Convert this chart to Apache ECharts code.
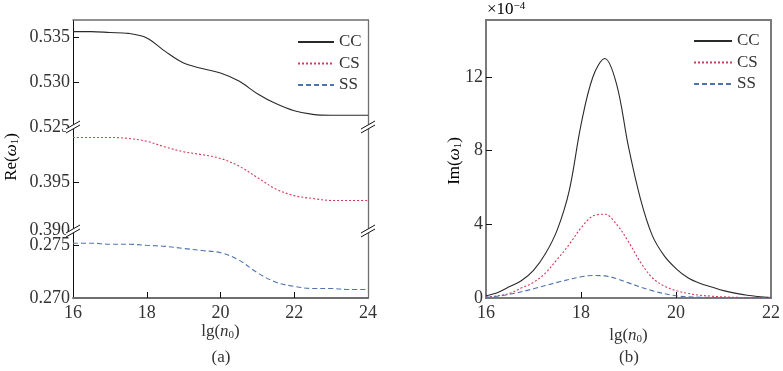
<!DOCTYPE html>
<html>
<head>
<meta charset="utf-8">
<script src="https://cdn.jsdelivr.net/npm/echarts@6/dist/echarts.min.js"></script>
<style>html,body{margin:0;padding:0;background:#fff}#c{width:783px;height:371px}</style>
</head>
<body>
<div id="c"></div>
<script>
// ---------- data: panel (a) ----------
const lgA = [16,16.5,17,17.5,18,18.5,19,19.5,20,20.5,21,21.5,22,22.5,23,23.5,24];
const reCC = [0.5356,0.5356,0.5355,0.5354,0.5349,0.5334,0.5321,0.5315,0.5310,0.5301,0.5287,0.5276,0.5268,0.5264,0.5263,0.5263,0.5263];
const reCS = [0.3997,0.3997,0.3997,0.3996,0.3993,0.3987,0.3982,0.3979,0.3975,0.3967,0.3955,0.3943,0.3936,0.3933,0.3931,0.3931,0.3931];
const reSS = [0.2752,0.2752,0.2751,0.2751,0.2750,0.2749,0.2747,0.2745,0.2743,0.2736,0.2724,0.2715,0.2711,0.2709,0.2709,0.2708,0.2708];
const xTicksA = [16,18,20,22,24];
const yLabelsTop = [0.525,0.530,0.535];
const yLabelsMid = [0.390,0.395];
const yLabelsBot = [0.270,0.275];
// ---------- data: panel (b), Im in units of 1e-4 ----------
const lgCC = [16,16.25,16.5,16.75,17,17.25,17.5,17.75,18,18.25,18.5,18.75,19,19.25,19.5,19.75,20,20.25,20.5,20.75,21,21.5,22];
const imCC = [0.12,0.3,0.62,0.95,1.5,2.4,3.7,5.8,9.4,12.0,13.0,11.6,8.2,5.4,3.4,2.3,1.6,1.1,0.8,0.6,0.4,0.15,0.03];
const lgCS = [16,16.25,16.5,16.75,17,17.25,17.5,17.75,18,18.25,18.5,18.75,19,19.25,19.5,19.75,20,20.25,20.5,20.75,21,21.5,22];
const imCS = [0.05,0.12,0.25,0.55,0.85,1.35,2.1,2.9,3.8,4.45,4.55,4.0,3.05,1.95,1.1,0.65,0.4,0.25,0.15,0.1,0.06,0.02,0.01];
const lgSS = [16,16.5,17,17.5,18,18.25,18.5,18.75,19,19.5,20,20.5,21,21.5,22];
const imSS = [0.02,0.2,0.5,0.85,1.15,1.22,1.2,1.05,0.82,0.4,0.12,0.04,0.02,0.01,0.005];
const xTicksB = [16,18,20,22];
const yTicksB = [0,4,8,12];
const names = ['CC','CS','SS'];

const FONT = "'Liberation Serif','DejaVu Serif',serif";
const TXT = '#333';
const TICKFS = 18;
const colors = {CC:'#2a2a2a', CS:'#d23a5e', SS:'#4f74ad'};
const lineTypes = {CC:'solid', CS:[2,2], SS:[5,3]};
const frame = '#6e6e6e';

const pairs = (xs, ys) => xs.map((x,i)=>[x, ys[i]]);

// layout constants
const AL = 73, AW = 295;
const gA = {left:AL, width:AW, top:20, height:107};
const gB = {left:AL, width:AW, top:127, height:103};
const gC = {left:AL, width:AW, top:230, height:68};
const gD = {left:486, width:286, top:20, height:278};

function yLeft(gi, min, max, labels, ticks){
  return {type:'value', gridIndex:gi, position:'left', min:min, max:max,
    axisLine:{show:true, onZero:false, lineStyle:{color:'#111', width:1}},
    axisTick:{show:true, inside:true, length:6, customValues:ticks, lineStyle:{color:'#111'}},
    axisLabel:{show:true, customValues:labels, margin:3, fontFamily:FONT, fontSize:TICKFS, color:TXT,
      formatter:v=>v.toFixed(3)},
    splitLine:{show:false}};
}
function yRight(gi, min, max){
  return {type:'value', gridIndex:gi, position:'right', min:min, max:max,
    axisLine:{show:true, onZero:false, lineStyle:{color:frame, width:1.3}},
    axisTick:{show:false}, axisLabel:{show:false}, splitLine:{show:false}};
}
function lineSeries(name, xi, yi, data){
  return {type:'line', name:name, xAxisIndex:xi, yAxisIndex:yi, data:data,
    symbol:'none', smooth:0.35, silent:true,
    lineStyle:{color:colors[name], width:1.1, type:lineTypes[name]},
    itemStyle:{color:colors[name]}};
}

const yAmax = 0.525 + 107/9000;
const yBmax = 0.390 + 103/9540;
const yCmax = 0.270 + 68/10540;

function breakMark(cx, cy){
  return [
    {type:'polygon', z:100, shape:{points:[[cx-7,cy+2],[cx+7,cy-6],[cx+7,cy-2],[cx-7,cy+6]]}, style:{fill:'#fff', stroke:null}},
    {type:'line', z:101, shape:{x1:cx-7,y1:cy+2,x2:cx+7,y2:cy-6}, style:{stroke:'#111', lineWidth:1}},
    {type:'line', z:101, shape:{x1:cx-7,y1:cy+6,x2:cx+7,y2:cy-2}, style:{stroke:'#111', lineWidth:1}}
  ];
}

const richName = {
  n:{fontFamily:FONT, fontSize:17, color:TXT},
  i:{fontFamily:FONT, fontSize:17, fontStyle:'italic', color:TXT},
  s:{fontFamily:FONT, fontSize:11, color:TXT, verticalAlign:'bottom', padding:[7,0,0,0]}
};

const legendBase = {orient:'vertical', itemHeight:12, itemGap:1.5, selectedMode:false,
  itemStyle:{color:'rgba(0,0,0,0)', borderColor:'rgba(0,0,0,0)', borderWidth:0, opacity:0},
  textStyle:{fontFamily:FONT, fontSize:17, color:TXT, lineHeight:20}};

const option = {
  animation:false,
  backgroundColor:'#fff',
  grid:[
    Object.assign({show:false}, gA),
    Object.assign({show:false}, gB),
    Object.assign({show:false}, gC),
    Object.assign({show:true, borderColor:'#7a7a7a', borderWidth:2}, gD)
  ],
  xAxis:[
    {type:'value', gridIndex:0, position:'top', min:16, max:24, interval:2,
      axisLine:{show:true, onZero:false, lineStyle:{color:frame, width:1.5}}, axisTick:{show:false}, axisLabel:{show:false}, splitLine:{show:false}},
    {type:'value', gridIndex:1, min:16, max:24, interval:2, show:false, splitLine:{show:false}},
    {type:'value', gridIndex:2, position:'bottom', min:16, max:24, interval:2,
      axisLine:{show:true, onZero:false, lineStyle:{color:frame, width:1.8}},
      axisTick:{show:true, inside:true, length:6, customValues:[18,20,22], lineStyle:{color:'#111'}},
      axisLabel:{show:true, customValues:xTicksA, margin:6, fontFamily:FONT, fontSize:TICKFS, color:TXT},
      splitLine:{show:false},
      name:'{n|lg(}{i|n}{s|0}{n|)}', nameLocation:'middle', nameGap:24,
      nameTextStyle:{rich:richName}},
    {type:'value', gridIndex:3, position:'bottom', min:16, max:22, interval:2,
      axisLine:{show:true, onZero:false, lineStyle:{color:'#7a7a7a', width:2}},
      axisTick:{show:true, inside:true, length:6, customValues:[18,20], lineStyle:{color:'#111'}},
      axisLabel:{show:true, customValues:xTicksB, margin:6, fontFamily:FONT, fontSize:TICKFS, color:TXT},
      splitLine:{show:false},
      name:'{n|lg(}{i|n}{s|0}{n|)}', nameLocation:'middle', nameGap:24,
      nameTextStyle:{rich:richName}}
  ],
  yAxis:[
    yLeft(0, 0.525, yAmax, yLabelsTop, [0.530,0.535]),
    yRight(0, 0.525, yAmax),
    yLeft(1, 0.390, yBmax, yLabelsMid, [0.395]),
    yRight(1, 0.390, yBmax),
    yLeft(2, 0.270, yCmax, yLabelsBot, [0.275]),
    yRight(2, 0.270, yCmax),
    {type:'value', gridIndex:3, position:'left', min:0, max:278/18.42,
      axisLine:{show:true, onZero:false, lineStyle:{color:'#7a7a7a', width:2}},
      axisTick:{show:true, inside:true, length:6, customValues:[4,8,12], lineStyle:{color:'#111'}},
      axisLabel:{show:true, customValues:yTicksB, margin:3, fontFamily:FONT, fontSize:TICKFS, color:TXT},
      splitLine:{show:false}}
  ],
  legend:[
    Object.assign({data:names, left:292, top:27, itemWidth:36}, legendBase),
    Object.assign({data:names, left:688, top:26, itemWidth:38}, legendBase)
  ],
  series:[
    lineSeries('CC', 0, 0, pairs(lgA, reCC)),
    lineSeries('CS', 1, 2, pairs(lgA, reCS)),
    lineSeries('SS', 2, 4, pairs(lgA, reSS)),
    lineSeries('CC', 3, 6, pairs(lgCC, imCC)),
    lineSeries('CS', 3, 6, pairs(lgCS, imCS)),
    lineSeries('SS', 3, 6, pairs(lgSS, imSS))
  ],
  graphic:[].concat(
    breakMark(AL, 127), breakMark(AL+AW, 127),
    breakMark(AL, 231), breakMark(AL+AW, 231),
    [
      {type:'text', x:12, y:157, rotation:Math.PI/2, z:50,
        style:{text:'{n|Re(}{i|ω}{s|1}{n|)}', rich:richName, align:'center', verticalAlign:'middle'}},
      {type:'text', x:455, y:161, rotation:Math.PI/2, z:50,
        style:{text:'{n|Im(}{i|ω}{s|1}{n|)}', rich:richName, align:'center', verticalAlign:'middle'}},
      {type:'text', x:487, y:10, z:50,
        style:{text:'{n|×10}{p|−4}', align:'left', verticalAlign:'middle',
          rich:{n:{fontFamily:FONT, fontSize:17, color:TXT}, p:{fontFamily:FONT, fontSize:11, color:TXT, verticalAlign:'top', padding:[0,0,8,0]}}}},
      {type:'text', x:221, y:358, z:50,
        style:{text:'(a)', fontFamily:FONT, fontSize:17, fill:TXT, align:'center', verticalAlign:'middle'}},
      {type:'text', x:629, y:358, z:50,
        style:{text:'(b)', fontFamily:FONT, fontSize:17, fill:TXT, align:'center', verticalAlign:'middle'}}
    ]
  )
};

const chart = echarts.init(document.getElementById('c'), null, {renderer:'canvas'});
chart.setOption(option);
</script>
</body>
</html>
